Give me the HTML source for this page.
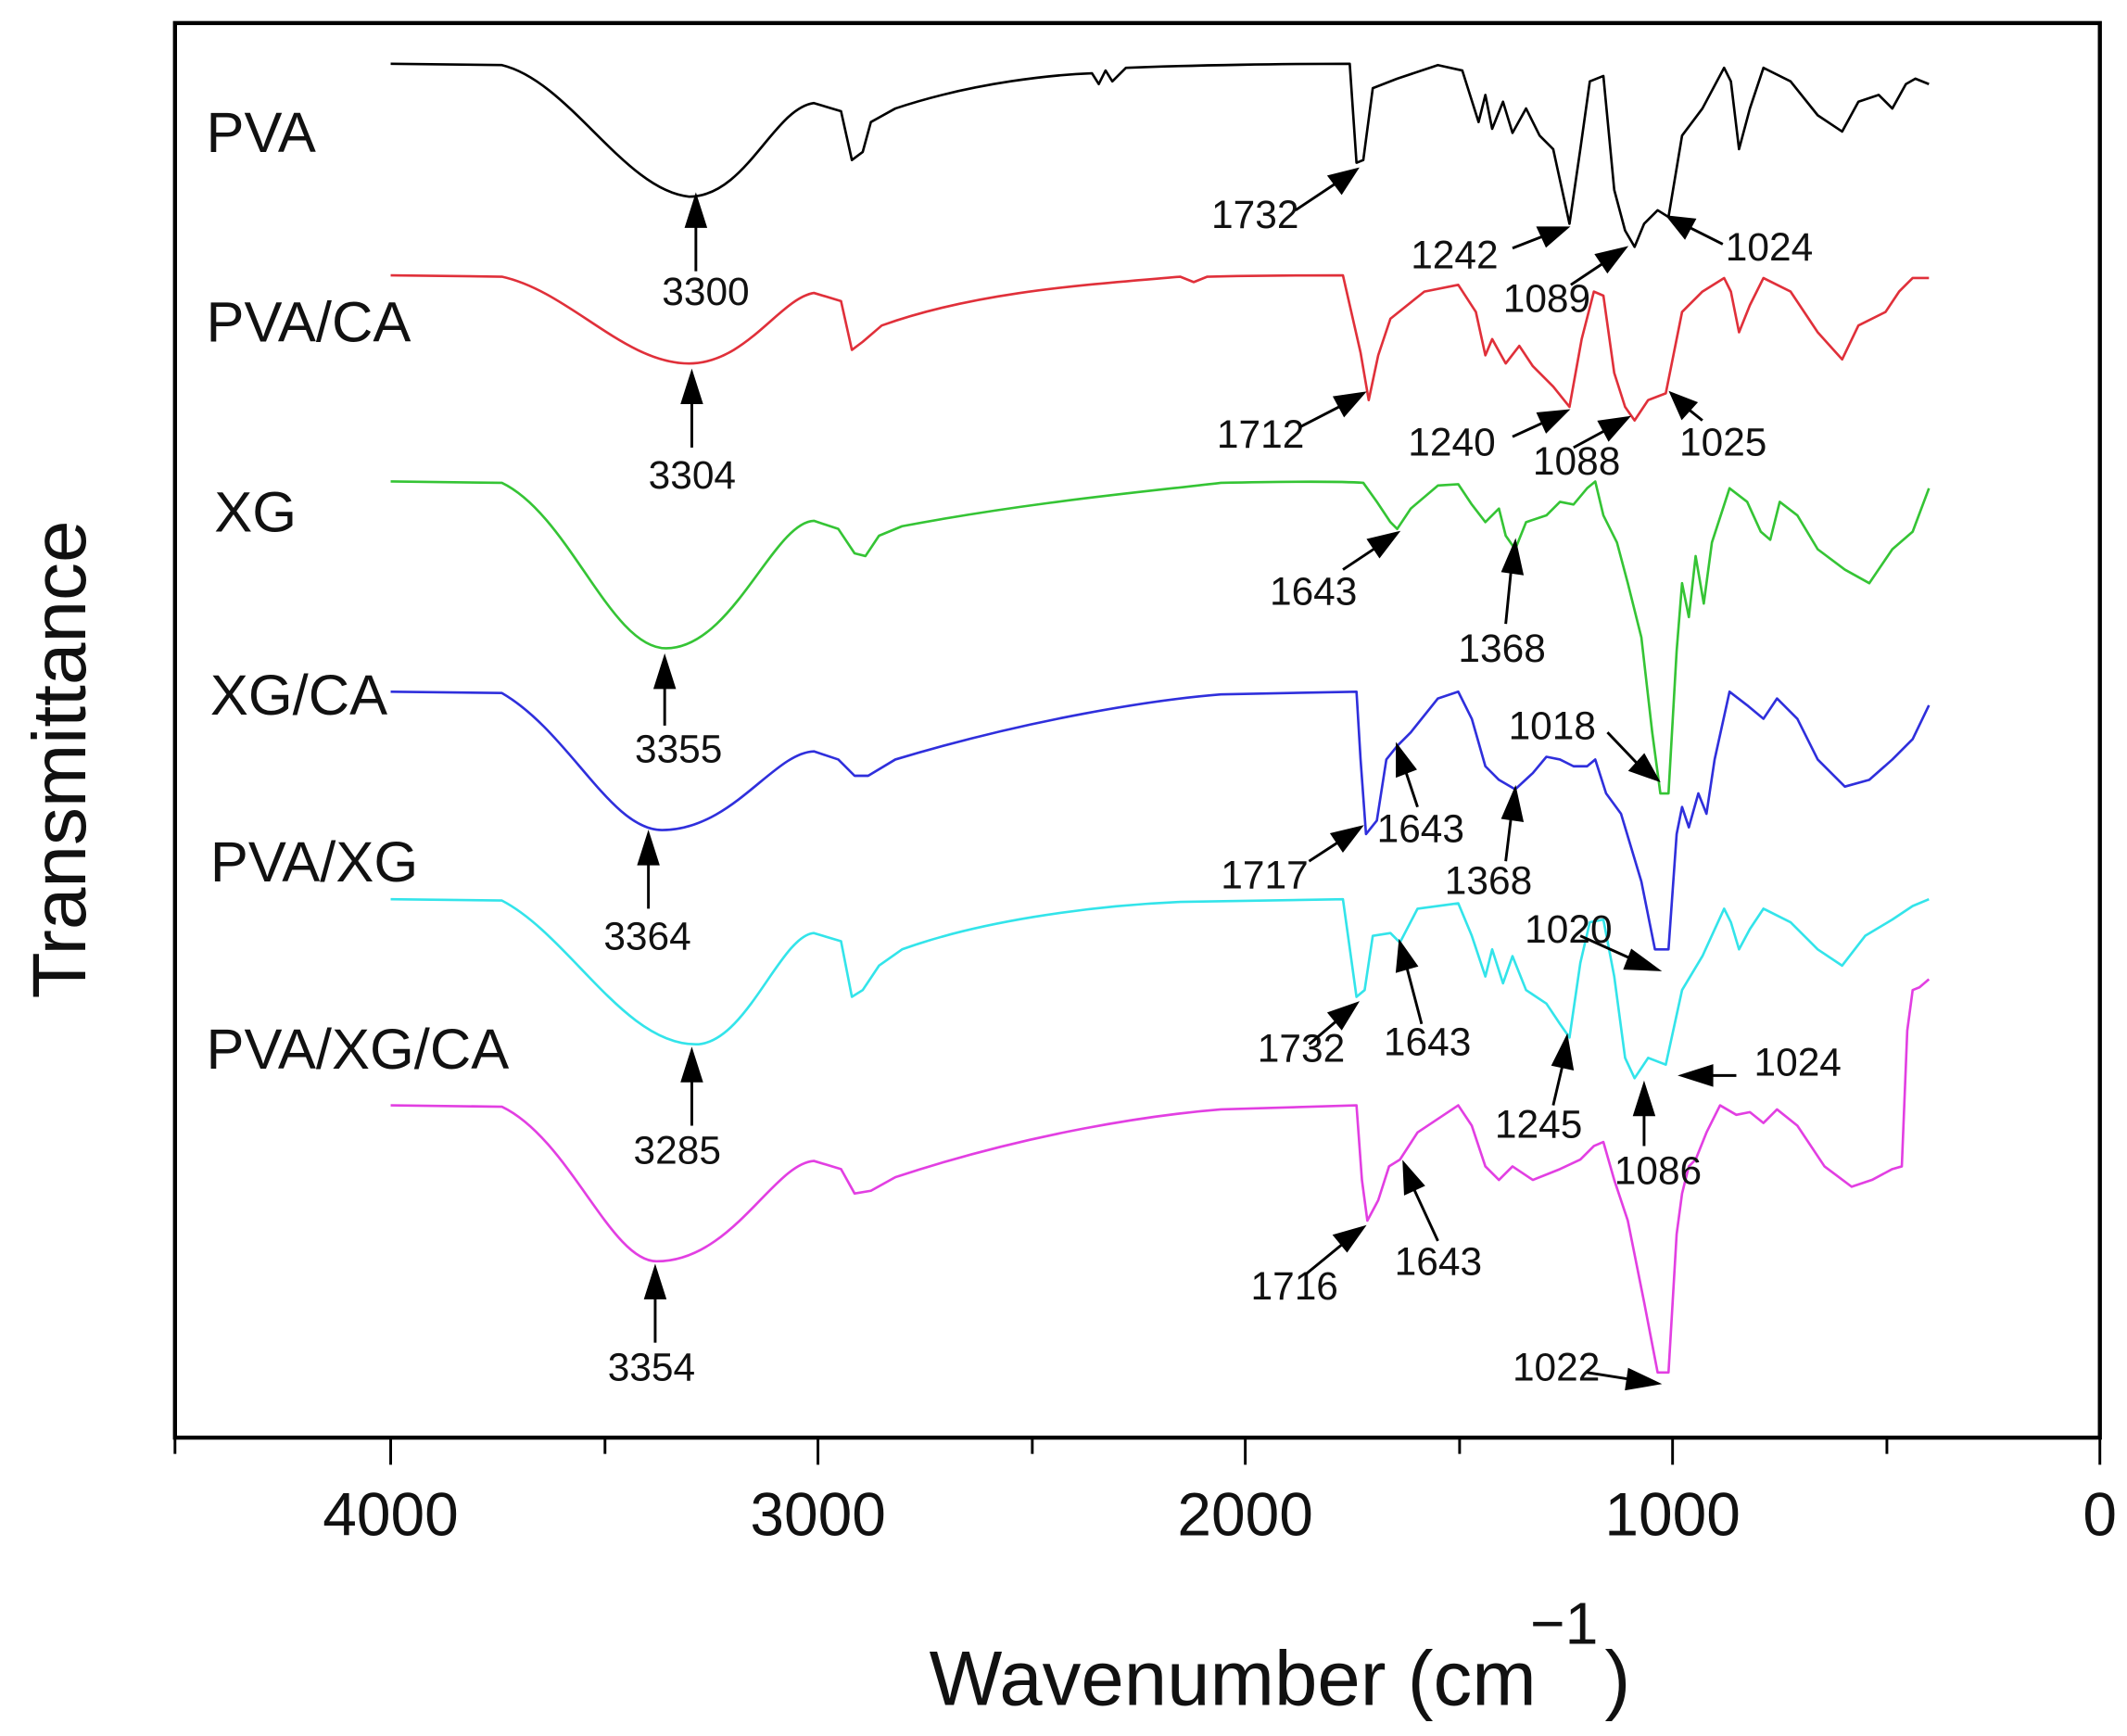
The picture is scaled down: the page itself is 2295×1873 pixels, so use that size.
<!DOCTYPE html>
<html><head><meta charset="utf-8"><style>
html,body{margin:0;padding:0;background:#fff;}
svg{display:block;}
text{font-family:"Liberation Sans",Arial,sans-serif;fill:#111;}
</style></head><body>
<svg width="2295" height="1873" viewBox="0 0 1568 1280" preserveAspectRatio="none" xmlns="http://www.w3.org/2000/svg">
<rect x="129" y="17" width="1419" height="1043" fill="none" stroke="#000" stroke-width="3"/>
<g stroke="#000" stroke-width="2">
<line x1="129" y1="1060" x2="129" y2="1072"/>
<line x1="288" y1="1060" x2="288" y2="1080"/>
<line x1="446" y1="1060" x2="446" y2="1072"/>
<line x1="603" y1="1060" x2="603" y2="1080"/>
<line x1="761" y1="1060" x2="761" y2="1072"/>
<line x1="918" y1="1060" x2="918" y2="1080"/>
<line x1="1076" y1="1060" x2="1076" y2="1072"/>
<line x1="1233" y1="1060" x2="1233" y2="1080"/>
<line x1="1391" y1="1060" x2="1391" y2="1072"/>
<line x1="1548" y1="1060" x2="1548" y2="1080"/>
</g>
<g font-size="45" text-anchor="middle">
<text x="288" y="1132">4000</text><text x="603" y="1132">3000</text>
<text x="918" y="1132">2000</text><text x="1233" y="1132">1000</text><text x="1548" y="1132">0</text>
</g>
<text x="685" y="1257" font-size="57">Wavenumber (cm</text>
<text x="1128" y="1212" font-size="44">−1</text>
<text x="1183" y="1257" font-size="57">)</text>
<text transform="translate(63,560) rotate(-90)" font-size="56" text-anchor="middle">Transmittance</text>

<g fill="none" stroke-width="1.8" stroke-linejoin="round">
<path stroke="#000" d="M288,47 L370,48 C420,60 460,140 508,145 C550,145 570,80 600,76 L620,82 L628,118 L636,112 L642,90 L660,80 C720,60 780,55 805,54 L810,62 L815,52 L820,60 L830,50 C880,48 950,47 995,47 L1000,120 L1005,118 L1012,65 L1030,58 L1060,48 L1078,52 L1090,90 L1095,70 L1100,95 L1108,75 L1115,98 L1125,80 L1135,100 L1145,110 L1157,165 L1165,110 L1172,60 L1182,56 L1190,140 L1198,170 L1205,182 L1212,165 L1222,155 L1230,160 L1240,100 L1255,80 L1271,50 L1276,60 L1282,110 L1290,80 L1300,50 L1320,60 L1340,85 L1358,97 L1370,75 L1385,70 L1395,80 L1405,62 L1412,58 L1422,62"/>
<path stroke="#e0303a" d="M288,203 L370,204 C420,215 460,268 508,268 C550,268 575,220 600,216 L620,222 L628,258 L636,252 L650,240 C720,215 800,210 870,204 L880,208 L890,204 C930,203 970,203 990,203 L1003,260 L1009,295 L1016,262 L1025,235 L1050,215 L1075,210 L1088,230 L1095,262 L1100,250 L1110,268 L1120,255 L1130,270 L1145,285 L1157,300 L1166,250 L1175,215 L1182,218 L1190,275 L1198,300 L1205,310 L1215,295 L1228,290 L1240,230 L1255,215 L1271,205 L1276,215 L1282,245 L1290,225 L1300,205 L1320,215 L1340,245 L1358,265 L1370,240 L1390,230 L1400,215 L1410,205 L1422,205"/>
<path stroke="#35c435" d="M288,355 L370,356 C420,380 450,478 491,478 C540,478 570,385 600,384 L618,390 L630,408 L638,410 L648,395 L665,388 C760,370 850,362 900,356 C950,355 990,355 1005,356 L1015,370 L1025,385 L1030,390 L1040,375 L1060,358 L1075,357 L1085,372 L1095,385 L1105,375 L1110,395 L1117,405 L1125,385 L1140,380 L1150,370 L1160,372 L1170,360 L1176,355 L1182,380 L1192,400 L1200,430 L1210,470 L1218,540 L1224,585 L1230,585 L1236,480 L1240,430 L1245,455 L1250,410 L1256,445 L1262,400 L1275,360 L1288,370 L1298,392 L1305,398 L1312,370 L1325,380 L1340,405 L1360,420 L1378,430 L1395,405 L1410,392 L1422,360"/>
<path stroke="#2f2fdc" d="M288,510 L370,511 C420,540 450,612 488,612 C540,612 570,555 600,554 L618,560 L630,572 L640,572 L660,560 C760,530 850,516 900,512 L1000,510 L1003,560 L1007,615 L1015,605 L1022,560 L1030,550 L1040,540 L1060,515 L1075,510 L1085,530 L1095,565 L1105,575 L1117,582 L1130,570 L1140,558 L1150,560 L1160,565 L1170,565 L1176,560 L1184,585 L1195,600 L1210,650 L1220,700 L1230,700 L1236,615 L1240,595 L1245,610 L1252,585 L1258,600 L1264,560 L1275,510 L1288,520 L1300,530 L1310,515 L1325,530 L1340,560 L1360,580 L1378,575 L1395,560 L1410,545 L1422,520"/>
<path stroke="#33e4ea" d="M288,663 L370,664 C420,690 460,770 513,770 C550,770 575,690 600,688 L620,694 L628,735 L636,730 L648,712 L665,700 C720,680 800,668 870,665 L990,663 L1000,735 L1006,730 L1012,690 L1025,688 L1032,695 L1045,670 L1075,666 L1085,690 L1095,720 L1100,700 L1108,725 L1115,705 L1125,730 L1140,740 L1150,755 L1157,765 L1165,710 L1172,680 L1182,678 L1190,720 L1198,780 L1205,795 L1215,780 L1228,785 L1240,730 L1255,705 L1271,670 L1276,680 L1282,700 L1290,685 L1300,670 L1320,680 L1340,700 L1358,712 L1375,690 L1395,678 L1410,668 L1422,663"/>
<path stroke="#e23fe2" d="M288,815 L370,816 C420,840 450,930 484,930 C540,930 570,858 600,856 L620,862 L630,880 L642,878 L660,868 C760,835 850,822 900,818 L1000,815 L1004,870 L1008,900 L1016,885 L1024,860 L1032,855 L1045,835 L1075,815 L1085,830 L1095,860 L1105,870 L1115,860 L1130,870 L1150,862 L1165,855 L1175,845 L1182,842 L1190,870 L1200,900 L1212,960 L1222,1012 L1230,1012 L1236,910 L1240,880 L1245,860 L1250,855 L1258,835 L1268,815 L1280,822 L1290,820 L1300,828 L1310,818 L1325,830 L1345,860 L1365,875 L1380,870 L1395,862 L1402,860 L1406,760 L1410,730 L1415,728 L1422,722"/>
</g>

<g font-size="42">
<text x="152" y="112">PVA</text>
<text x="152" y="252">PVA/CA</text>
<text x="158" y="392">XG</text>
<text x="155" y="527">XG/CA</text>
<text x="155" y="650">PVA/XG</text>
<text x="152" y="788">PVA/XG/CA</text>
</g>

<g font-size="29">
<text x="488" y="225">3300</text><text x="893" y="168">1732</text><text x="1040" y="198">1242</text><text x="1108" y="230">1089</text><text x="1272" y="192">1024</text>
<text x="478" y="360">3304</text><text x="897" y="330">1712</text><text x="1038" y="336">1240</text><text x="1130" y="350">1088</text><text x="1238" y="336">1025</text>
<text x="936" y="446">1643</text><text x="468" y="562">3355</text><text x="1075" y="488">1368</text><text x="1112" y="545">1018</text>
<text x="445" y="700">3364</text><text x="900" y="655">1717</text><text x="1015" y="621">1643</text><text x="1065" y="659">1368</text><text x="1124" y="695">1020</text>
<text x="467" y="858">3285</text><text x="927" y="783">1732</text><text x="1020" y="778">1643</text><text x="1102" y="839">1245</text><text x="1190" y="873">1086</text><text x="1293" y="793">1024</text>
<text x="448" y="1018">3354</text><text x="922" y="958">1716</text><text x="1028" y="940">1643</text><text x="1115" y="1018">1022</text>
</g>

<g stroke="#000" stroke-width="2" fill="#000">
<line x1="513" y1="200" x2="513" y2="165"/><polygon points="513,145 506,167 520,167"/>
<line x1="955" y1="155" x2="985" y2="135"/><polygon points="1000,125 980,130 989,142"/>
<line x1="1115" y1="183" x2="1138" y2="174"/><polygon points="1155,168 1134,168 1140,181"/>
<line x1="1158" y1="210" x2="1182" y2="194"/><polygon points="1198,183 1177,188 1185,200"/>
<line x1="1270" y1="180" x2="1246" y2="168"/><polygon points="1230,160 1242,175 1249,162"/>

<line x1="510" y1="330" x2="510" y2="295"/><polygon points="510,275 503,297 517,297"/>
<line x1="958" y1="315" x2="989" y2="299"/><polygon points="1005,290 984,293 991,306"/>
<line x1="1115" y1="322" x2="1139" y2="311"/><polygon points="1155,303 1134,305 1140,318"/>
<line x1="1160" y1="330" x2="1184" y2="317"/><polygon points="1200,308 1179,311 1186,324"/>
<line x1="1255" y1="310" x2="1245" y2="302"/><polygon points="1232,290 1240,308 1250,297"/>

<line x1="490" y1="535" x2="490" y2="505"/><polygon points="490,485 483,507 497,507"/>
<line x1="990" y1="420" x2="1014" y2="404"/><polygon points="1030,393 1009,398 1017,410"/>
<line x1="1110" y1="460" x2="1114" y2="420"/><polygon points="1117,400 1108,421 1122,423"/>
<line x1="1185" y1="540" x2="1207" y2="563"/><polygon points="1222,575 1202,568 1212,557"/>

<line x1="478" y1="670" x2="478" y2="635"/><polygon points="478,615 471,637 485,637"/>
<line x1="965" y1="635" x2="988" y2="620"/><polygon points="1003,610 982,615 990,627"/>
<line x1="1045" y1="595" x2="1036" y2="568"/><polygon points="1030,550 1030,572 1043,567"/>
<line x1="1110" y1="635" x2="1114" y2="602"/><polygon points="1117,582 1108,603 1122,605"/>
<line x1="1165" y1="690" x2="1205" y2="708"/><polygon points="1222,715 1203,701 1198,714"/>

<line x1="510" y1="830" x2="510" y2="795"/><polygon points="510,775 503,797 517,797"/>
<line x1="965" y1="770" x2="985" y2="753"/><polygon points="1000,740 980,747 989,758"/>
<line x1="1048" y1="755" x2="1037" y2="713"/><polygon points="1032,695 1030,716 1044,712"/>
<line x1="1145" y1="815" x2="1152" y2="785"/><polygon points="1155,765 1145,785 1159,788"/>
<line x1="1212" y1="845" x2="1212" y2="820"/><polygon points="1212,800 1205,822 1219,822"/>
<line x1="1280" y1="793" x2="1260" y2="793"/><polygon points="1240,793 1262,786 1262,800"/>

<line x1="483" y1="990" x2="483" y2="955"/><polygon points="483,935 476,957 490,957"/>
<line x1="962" y1="940" x2="990" y2="917"/><polygon points="1005,905 984,911 993,922"/>
<line x1="1060" y1="915" x2="1042" y2="876"/><polygon points="1035,858 1036,880 1049,874"/>
<line x1="1170" y1="1012" x2="1202" y2="1017"/><polygon points="1222,1020 1201,1010 1199,1024"/>
</g>
</svg>
</body></html>
